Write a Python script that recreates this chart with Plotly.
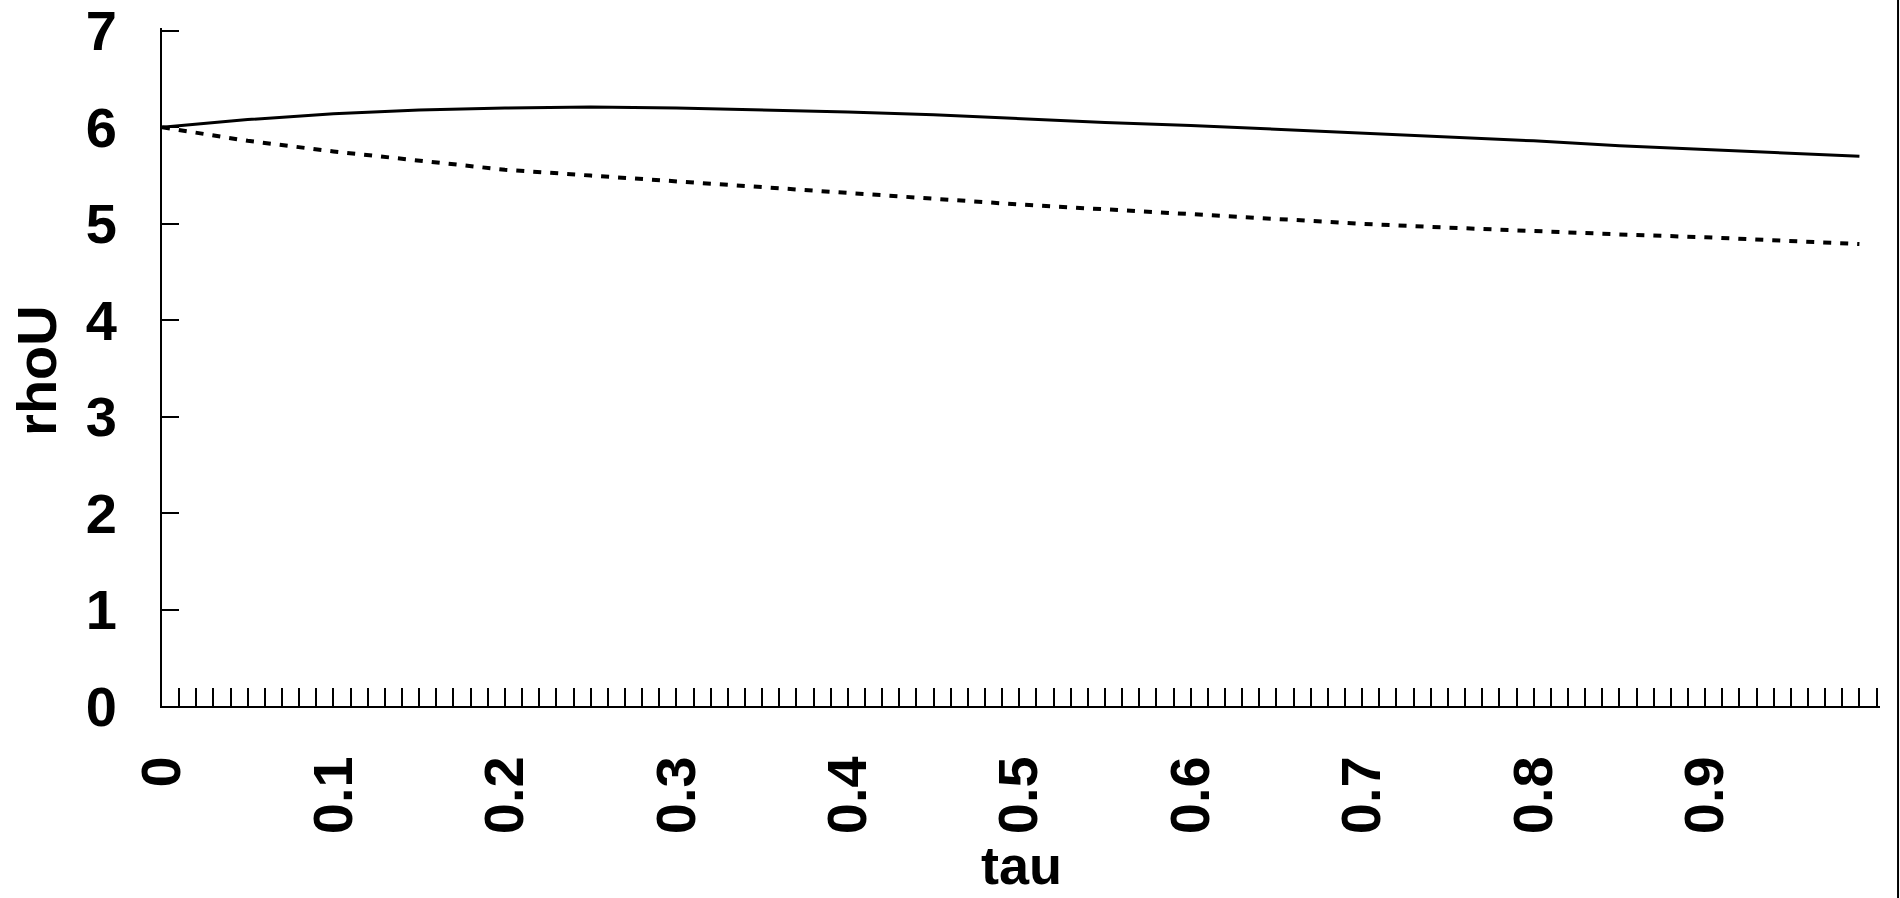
import plotly.graph_objects as go

# ---- data ----
tau = [0.00, 0.05, 0.10, 0.15, 0.20, 0.25, 0.30, 0.35, 0.40, 0.45, 0.50,
       0.55, 0.60, 0.65, 0.70, 0.75, 0.80, 0.85, 0.90, 0.95, 0.99]
rhoU_solid = [6.00, 6.08, 6.14, 6.18, 6.20, 6.21, 6.20, 6.18, 6.16, 6.13, 6.09,
              6.05, 6.02, 5.98, 5.94, 5.90, 5.86, 5.81, 5.77, 5.73, 5.70]
rhoU_dashed = [6.00, 5.86, 5.75, 5.65, 5.56, 5.50, 5.44, 5.37, 5.31, 5.25, 5.20,
               5.15, 5.10, 5.04, 5.00, 4.96, 4.92, 4.89, 4.86, 4.82, 4.79]

x_tick_values = [0, 0.1, 0.2, 0.3, 0.4, 0.5, 0.6, 0.7, 0.8, 0.9]
x_tick_labels = ["0", "0.1", "0.2", "0.3", "0.4", "0.5", "0.6", "0.7", "0.8", "0.9"]
y_tick_values = [0, 1, 2, 3, 4, 5, 6, 7]
y_tick_labels = ["0", "1", "2", "3", "4", "5", "6", "7"]
x_title = "tau"
y_title = "rhoU"

FONT = "Liberation Sans, Arial, sans-serif"
TXT = dict(family=FONT, size=56, color="black", weight="bold")
TITLE_X = dict(family=FONT, size=54, color="black", weight="bold")

fig = go.Figure()
fig.add_trace(go.Scatter(x=tau, y=rhoU_solid, mode="lines",
                         line=dict(color="black", width=3), showlegend=False))
fig.add_trace(go.Scatter(x=tau, y=rhoU_dashed, mode="lines",
                         line=dict(color="black", width=4, dash="8px,9px"),
                         showlegend=False))

fig.update_layout(
    width=1900, height=898,
    margin=dict(l=162, r=20, t=28, b=192),
    paper_bgcolor="white", plot_bgcolor="white",
    font=TXT,
    xaxis=dict(
        range=[0, 1.002], showgrid=False, zeroline=False, automargin=False,
        showline=True, linecolor="black", linewidth=2,
        tickmode="array", tickvals=x_tick_values, ticktext=x_tick_labels,
        ticks="inside", ticklen=18, tickwidth=1.5, tickcolor="black",
        tickangle=-90, ticklabelstandoff=26, ticklabeloverflow="allow",
        tickfont=TXT,
        minor=dict(dtick=0.01, tick0=0, ticks="inside", ticklen=18,
                   tickwidth=1.5, tickcolor="black", showgrid=False),
    ),
    yaxis=dict(
        range=[0, 7.03], showgrid=False, zeroline=False, automargin=False,
        showline=True, linecolor="black", linewidth=2,
        tickmode="array", tickvals=y_tick_values, ticktext=y_tick_labels,
        ticks="inside", ticklen=17, tickwidth=1.5, tickcolor="black",
        ticklabelstandoff=32, ticklabeloverflow="allow",
        tickfont=TXT,
    ),
    annotations=[
        dict(text=x_title, xref="paper", yref="paper", x=0.5, y=-0.2345,
             xanchor="center", yanchor="middle", showarrow=False, font=TITLE_X),
        dict(text=y_title, xref="paper", yref="paper", x=-0.0728, y=0.4956,
             xanchor="center", yanchor="middle", textangle=-90,
             showarrow=False, font=TXT),
    ],
    shapes=[dict(type="line", xref="paper", yref="paper",
                 x0=1.0105, x1=1.0105, y0=-0.3, y1=1.1,
                 line=dict(color="black", width=2))],
)

fig.write_html("out.html")
